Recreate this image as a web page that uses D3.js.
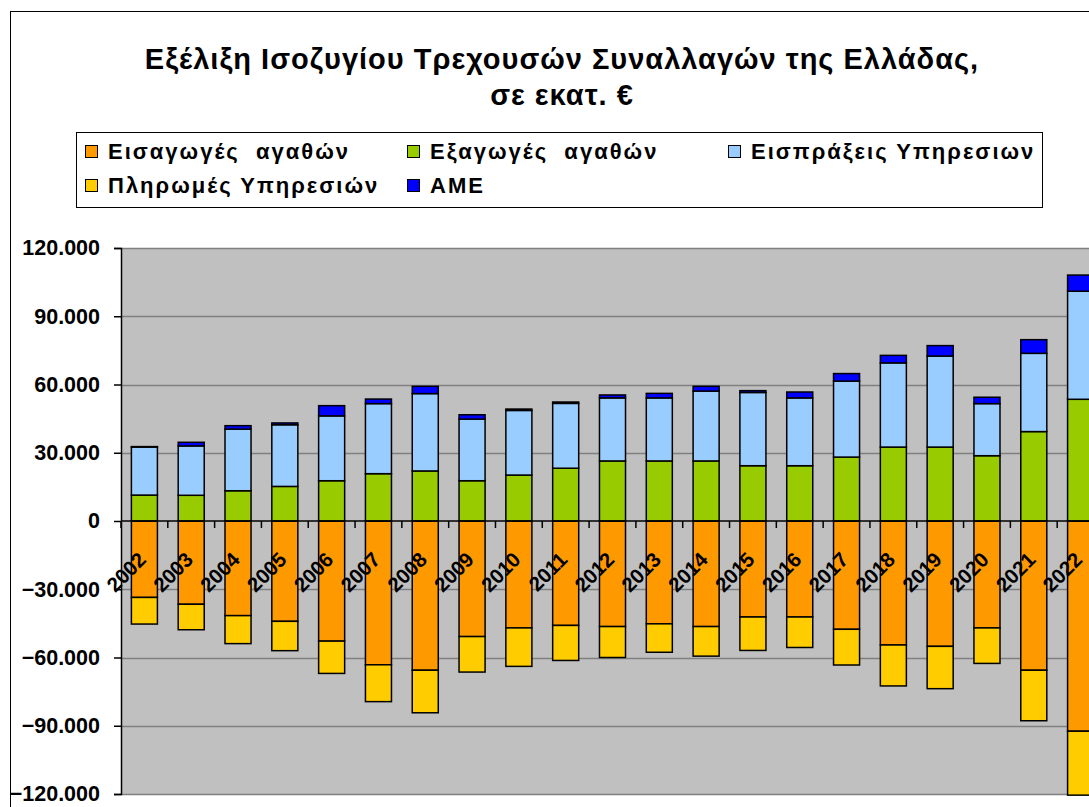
<!DOCTYPE html>
<html>
<head>
<meta charset="utf-8">
<script src="https://cdn.jsdelivr.net/npm/d3@7"></script>
<style>
  body { margin: 0; background: #fff; }
  svg { display: block; font-family: "Liberation Sans", Arial, sans-serif; }
  text { white-space: pre; font-family: "Liberation Sans", Arial, sans-serif; font-weight: 700; }
</style>
</head>
<body>
<div id="chart"></div>
<script>
// Ισοζύγιο τρεχουσών συναλλαγών, σε εκατ. €, τιμές εκτιμημένες από την εικόνα
const years = ["2002","2003","2004","2005","2006","2007","2008","2009","2010","2011",
  "2012","2013","2014","2015","2016","2017","2018","2019","2020","2021","2022"];

const eisagoges = [-33600, -36600, -41600, -44100, -52800, -63200, -65600, -50800, -47000, -45900,
  -46400, -45200, -46400, -42200, -42200, -47600, -54500, -55100, -47000, -65600, -92400];
const plirpomes = [-11700, -11200, -12300, -12900, -14200, -16200, -18700, -15600, -16900, -15400,
  -13600, -12500, -13000, -14700, -13400, -15700, -18000, -18600, -15600, -22200, -28100];
const exagoges = [11400, 11300, 13300, 15200, 17700, 20800, 22000, 17700, 20200, 23200,
  26400, 26400, 26400, 24300, 24300, 28100, 32500, 32500, 28700, 39300, 53500];
const eispraxeis = [21100, 21700, 27100, 27100, 28500, 30800, 34000, 27100, 28400, 28500,
  27700, 27700, 30700, 32200, 29800, 33400, 37000, 40000, 22900, 34400, 47500];
const ame = [200, 1600, 1500, 800, 4500, 2000, 3200, 1900, 600, 600,
  1300, 2000, 2100, 800, 2600, 3300, 3300, 4600, 2800, 6000, 7100];

const yTicks = [-120000, -90000, -60000, -30000, 0, 30000, 60000, 90000, 120000];

// σειρές: κλειδί, όνομα στο υπόμνημα, χρώμα
const series = [
  { key: "eisagoges", label: "Εισαγωγές  αγαθών", color: "#FF9900", values: eisagoges },
  { key: "exagoges", label: "Εξαγωγές  αγαθών", color: "#99CC00", values: exagoges },
  { key: "eispraxeis", label: "Εισπράξεις Υπηρεσιων", color: "#99CCFF", values: eispraxeis },
  { key: "plirpomes", label: "Πληρωμές Υπηρεσιών", color: "#FFCC00", values: plirpomes },
  { key: "ame", label: "ΑΜΕ", color: "#0000FF", values: ame }
];

const width = 1089;
const height = 807;
const margin = { top: 248, left: 121, bottom: 794 };
const plotRight = 1104; // η περιοχή σχεδίασης κόβεται στα δεξιά

const svg = d3.select("#chart").append("svg")
  .attr("width", width)
  .attr("height", height);

// πλαίσιο γραφήματος
svg.append("rect")
  .attr("x", 10.5).attr("y", 11.5)
  .attr("width", width + 20).attr("height", height + 20)
  .attr("fill", "#fff").attr("stroke", "#000").attr("stroke-width", 1);

// τίτλος
svg.append("text")
  .attr("x", 562).attr("y", 69)
  .attr("text-anchor", "middle")
  .attr("font-size", "29px")
  .attr("letter-spacing", "1px")
  .text("Εξέλιξη Ισοζυγίου Τρεχουσών Συναλλαγών της Ελλάδας,");
svg.append("text")
  .attr("x", 562).attr("y", 105)
  .attr("text-anchor", "middle")
  .attr("font-size", "29px")
  .attr("letter-spacing", "1px")
  .text("σε εκατ. €");

// Skalen
const x = d3.scaleBand()
  .domain(years)
  .range([margin.left, plotRight])
  .paddingInner(0.444)
  .paddingOuter(0.222);

const y = d3.scaleLinear()
  .domain([-120000, 120000])
  .range([margin.bottom, margin.top]);

// φόντο περιοχής σχεδίασης
svg.append("rect")
  .attr("x", margin.left).attr("y", margin.top)
  .attr("width", plotRight - margin.left)
  .attr("height", margin.bottom - margin.top)
  .attr("fill", "#C0C0C0");

// γραμμές πλέγματος
svg.append("g")
  .selectAll("line")
  .data(yTicks.filter(d => d !== 0))
  .join("line")
  .attr("x1", margin.left).attr("x2", plotRight)
  .attr("y1", d => Math.round(y(d)) + 0.5)
  .attr("y2", d => Math.round(y(d)) + 0.5)
  .attr("stroke", "#808080").attr("stroke-width", 1.5);

// στοίβαξη
const table = years.map((yr, i) => {
  const row = { year: yr };
  series.forEach(s => row[s.key] = s.values[i]);
  return row;
});

const stackOrder = ["eisagoges", "plirpomes", "exagoges", "eispraxeis", "ame"];
const stacked = d3.stack()
  .keys(stackOrder)
  .offset(d3.stackOffsetDiverging)(table);

const colorOf = Object.fromEntries(series.map(s => [s.key, s.color]));

svg.append("g")
  .selectAll("g")
  .data(stacked)
  .join("g")
  .attr("fill", d => colorOf[d.key])
  .selectAll("rect")
  .data(d => d)
  .join("rect")
  .attr("x", d => x(d.data.year))
  .attr("width", x.bandwidth())
  .attr("y", d => y(Math.max(d[0], d[1])))
  .attr("height", d => Math.abs(y(d[0]) - y(d[1])))
  .attr("stroke", "#000")
  .attr("stroke-width", 1.5);

// άξονας Y
const fmt = d3.formatLocale({ decimal: ",", thousands: ".", grouping: [3], currency: ["", "€"] }).format(",d");

const yAxis = svg.append("g")
  .attr("transform", `translate(${margin.left},0)`)
  .call(d3.axisLeft(y).tickValues(yTicks).tickFormat(fmt).tickSize(7).tickPadding(14));
yAxis.select(".domain").attr("stroke", "#000").attr("stroke-width", 1.5);
yAxis.selectAll(".tick line").attr("stroke", "#000").attr("stroke-width", 1.5);
yAxis.selectAll(".tick text")
  .attr("font-size", "21.5px")
  .attr("font-family", null)
  .attr("fill", "#000");

// άξονας X στο μηδέν
const zeroY = y(0);
svg.append("line")
  .attr("x1", margin.left).attr("x2", plotRight)
  .attr("y1", zeroY).attr("y2", zeroY)
  .attr("stroke", "#000").attr("stroke-width", 1.5);

const step = x.step();
svg.append("g")
  .selectAll("line")
  .data(years)
  .join("line")
  .attr("x1", d => x(d) - x.paddingOuter() * step)
  .attr("x2", d => x(d) - x.paddingOuter() * step)
  .attr("y1", zeroY).attr("y2", zeroY + 7)
  .attr("stroke", "#000").attr("stroke-width", 1.5);

svg.append("g")
  .selectAll("text")
  .data(years)
  .join("text")
  .attr("transform", d => `translate(${x(d) + x.bandwidth() / 2 + 3},${zeroY + 40}) rotate(-45)`)
  .attr("text-anchor", "end")
  .attr("font-size", "20.5px")
  .text(d => d);

// υπόμνημα
svg.append("rect")
  .attr("x", 76.5).attr("y", 132.5)
  .attr("width", 966).attr("height", 75)
  .attr("fill", "#fff").attr("stroke", "#000").attr("stroke-width", 1);

const legendPos = [
  { x: 85, y: 159 }, { x: 407, y: 159 }, { x: 728, y: 159 },
  { x: 85, y: 193 }, { x: 407, y: 193 }
];

const legend = svg.append("g")
  .selectAll("g")
  .data(series)
  .join("g")
  .attr("transform", (d, i) => `translate(${legendPos[i].x},${legendPos[i].y})`);

legend.append("rect")
  .attr("x", 0.5).attr("y", -13.5)
  .attr("width", 12).attr("height", 12)
  .attr("fill", d => d.color)
  .attr("stroke", "#000").attr("stroke-width", 1);

legend.append("text")
  .attr("x", 23).attr("y", 0)
  .attr("font-size", "22px")
  .attr("letter-spacing", "2px")
  .text(d => d.label);
</script>
</body>
</html>
